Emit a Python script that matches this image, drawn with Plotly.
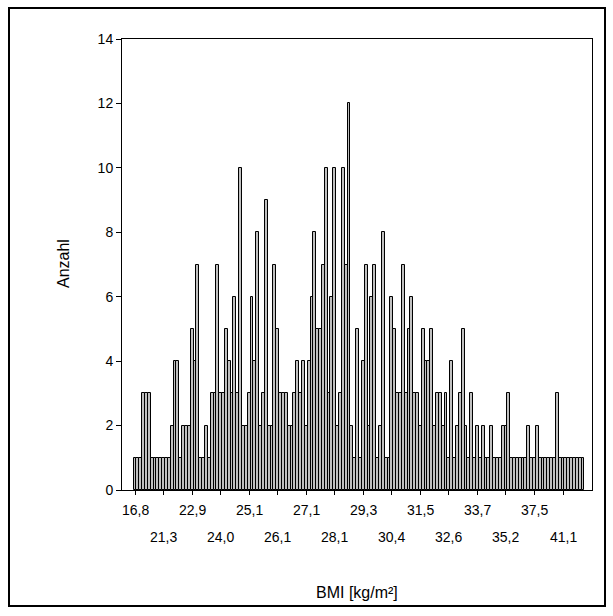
import plotly.graph_objects as go

# Counts per BMI category (left to right)
counts = [
    1, 1, 1, 3, 3, 3, 1, 1, 1, 1,
    1, 1, 1, 2, 4, 4, 1, 2, 2, 2,
    5, 4, 7, 1, 1, 2, 1, 3, 3, 7,
    3, 3, 5, 4, 3, 6, 3, 10, 2, 2,
    3, 6, 4, 8, 2, 3, 9, 2, 2, 7,
    5, 3, 3, 3, 2, 2, 3, 4, 3, 4,
    2, 4, 6, 8, 5, 5, 7, 10, 3, 6,
    10, 2, 3, 10, 7, 12, 2, 1, 5, 1,
    4, 7, 2, 6, 7, 1, 2, 8, 1, 1,
    6, 5, 3, 3, 7, 3, 5, 6, 3, 3,
    2, 5, 4, 4, 5, 2, 3, 3, 2, 3,
    1, 4, 1, 2, 3, 5, 2, 1, 3, 1,
    2, 1, 2, 1, 1, 2, 1, 1, 1, 2,
    2, 3, 1, 1, 1, 1, 1, 1, 2, 1,
    1, 2, 1, 1, 1, 1, 1, 1, 3, 1,
    1, 1, 1, 1, 1, 1, 1, 1,
]
categories = list(range(len(counts)))

# x tick labels (every 10th category), alternating two rows
tick_positions = list(range(0, 160, 10))
tick_labels = ["16,8", "21,3", "22,9", "24,0", "25,1", "26,1", "27,1", "28,1",
               "29,3", "30,4", "31,5", "32,6", "33,7", "35,2", "37,5", "41,1"]

W, H = 613, 616
L, R, T, B = 122, 21, 39, 126
pw, ph = W - L - R, H - T - B

def px2paper_x(px):
    return (px - L) / pw

def px2paper_y(py):
    return (H - B - py) / ph

fig = go.Figure()
fig.add_trace(go.Bar(
    x=categories, y=counts,
    marker=dict(color="#c0c0c0", line=dict(color="black", width=1)),
    width=1.0,
))

annotations = []
for i, (pos, lab) in enumerate(zip(tick_positions, tick_labels)):
    row_y = 510 if i % 2 == 0 else 537
    annotations.append(dict(
        x=pos, y=px2paper_y(row_y), xref="x", yref="paper",
        text=lab, showarrow=False, xanchor="center", yanchor="middle",
        font=dict(family="Liberation Sans, Arial", size=14, color="black"),
    ))
annotations.append(dict(
    x=px2paper_x(357), y=px2paper_y(592), xref="paper", yref="paper",
    text="BMI [kg/m²]", showarrow=False, xanchor="center", yanchor="middle",
    font=dict(family="Liberation Sans, Arial", size=16, color="black"),
))
annotations.append(dict(
    x=px2paper_x(63), y=px2paper_y(264), xref="paper", yref="paper",
    text="Anzahl", showarrow=False, textangle=-90, xanchor="center", yanchor="middle",
    font=dict(family="Liberation Sans, Arial", size=16, color="black"),
))

fig.update_layout(
    width=W, height=H,
    margin=dict(l=L, r=R, t=T, b=B),
    paper_bgcolor="white", plot_bgcolor="white",
    bargap=0, showlegend=False,
    annotations=annotations,
    shapes=[dict(type="rect", xref="paper", yref="paper",
                 x0=px2paper_x(9), x1=px2paper_x(605),
                 y0=px2paper_y(606), y1=px2paper_y(8),
                 line=dict(color="black", width=2), fillcolor="rgba(0,0,0,0)",
                 layer="below")],
    font=dict(family="Liberation Sans, Arial", size=14, color="black"),
)
fig.update_xaxes(
    range=[-4.57, 160.16], showgrid=False, zeroline=False,
    showline=True, linecolor="black", linewidth=1, mirror=True,
    tickmode="array", tickvals=tick_positions, ticktext=[""] * len(tick_positions),
    ticks="outside", ticklen=4, tickcolor="black", tickwidth=1,
)
fig.update_yaxes(
    range=[0, 14], dtick=2, showgrid=False, zeroline=False,
    showline=True, linecolor="black", linewidth=1, mirror=True,
    ticks="outside", ticklen=5, tickcolor="black", tickwidth=1,
    tickfont=dict(family="Liberation Sans, Arial", size=14, color="black"),
)

fig.write_html("out.html")
